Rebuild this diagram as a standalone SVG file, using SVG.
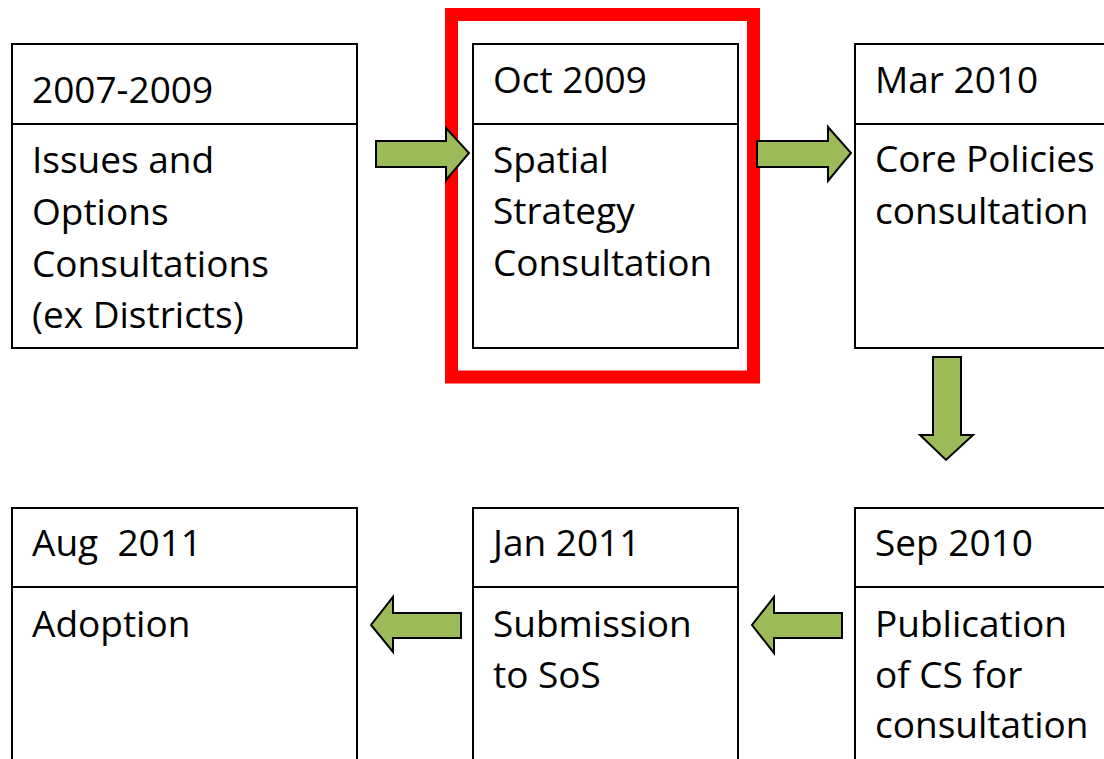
<svg xmlns="http://www.w3.org/2000/svg" width="1104" height="759" viewBox="0 0 1104 759">
<style>
.box{fill:#fff;stroke:#000;stroke-width:2}
.div{stroke:#000;stroke-width:2}
.t{font-family:"Open Sans","Noto Sans","Liberation Sans",sans-serif;font-size:37px;fill:#000;white-space:pre}
.arr{fill:#9BBB59;stroke:#000;stroke-width:2;stroke-linejoin:miter}
.hl{fill:none;stroke:#FF0000;stroke-width:13}
</style>
<rect width="1104" height="759" fill="#fff"/>
<rect class="hl" x="451.5" y="14.5" width="302" height="362.5"/>
<g id="node1">
<rect class="box" x="12" y="44" width="345" height="304"/>
<line class="div" x1="12" y1="124" x2="357" y2="124"/>
<text class="t" x="32" y="103">2007-2009</text>
<text class="t" x="32" y="173">Issues and</text>
<text class="t" x="32" y="225">Options</text>
<text class="t" x="32" y="277">Consultations</text>
<text class="t" x="32" y="328">(ex Districts)</text>
</g>
<g id="node2">
<rect class="box" x="473" y="44" width="265" height="304"/>
<line class="div" x1="473" y1="124" x2="738" y2="124"/>
<text class="t" x="493" y="93">Oct 2009</text>
<text class="t" x="493" y="173">Spatial</text>
<text class="t" x="493" y="224">Strategy</text>
<text class="t" x="493" y="276">Consultation</text>
</g>
<g id="node3">
<rect class="box" x="855" y="44" width="270" height="304"/>
<line class="div" x1="855" y1="124" x2="1125" y2="124"/>
<text class="t" x="875" y="93">Mar 2010</text>
<text class="t" x="875" y="172">Core Policies</text>
<text class="t" x="875" y="224">consultation</text>
</g>
<g id="node4">
<rect class="box" x="855" y="508" width="270" height="270"/>
<line class="div" x1="855" y1="587" x2="1125" y2="587"/>
<text class="t" x="875" y="556">Sep 2010</text>
<text class="t" x="875" y="637">Publication</text>
<text class="t" x="875" y="688">of CS for</text>
<text class="t" x="875" y="738">consultation</text>
</g>
<g id="node5">
<rect class="box" x="473" y="508" width="265" height="270"/>
<line class="div" x1="473" y1="587" x2="738" y2="587"/>
<text class="t" x="493" y="556">Jan 2011</text>
<text class="t" x="493" y="637">Submission</text>
<text class="t" x="493" y="688">to SoS</text>
</g>
<g id="node6">
<rect class="box" x="12" y="508" width="345" height="270"/>
<line class="div" x1="12" y1="587" x2="357" y2="587"/>
<text class="t" x="32" y="556">Aug  2011</text>
<text class="t" x="32" y="637">Adoption</text>
</g>
<g id="connectors">
<polygon class="arr" points="376,141 446,141 446,128 469,153 446,180 446,167 376,167"/>
<polygon class="arr" points="757,141 828,141 828,127 851,153 828,181 828,167 757,167"/>
<polygon class="arr" points="933,357 961,357 961,435 973,435 946,460 920,435 933,435"/>
<polygon class="arr" points="842,613 774,613 774,597 752,625 774,653 774,638 842,638"/>
<polygon class="arr" points="461,613 393,613 393,597 371,625 393,652 393,638 461,638"/>
</g>
</svg>
